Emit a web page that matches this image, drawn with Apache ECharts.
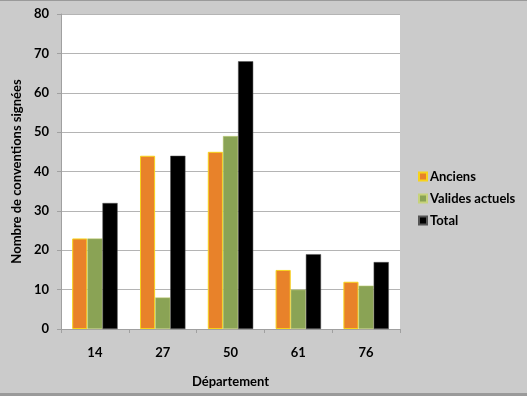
<!DOCTYPE html>
<html><head><meta charset="utf-8">
<script src="https://cdn.jsdelivr.net/npm/echarts@6/dist/echarts.min.js"></script>
<style>
html,body{margin:0;padding:0;background:#cbcbcb;}
#wrap{width:527px;height:396px;box-sizing:border-box;border-top:1px solid #9a9a9a;border-bottom:3px solid #9a9a9a;background:#cbcbcb;}
#c{width:527px;height:392px;}
</style></head>
<body><div id="wrap"><div id="c"></div></div>
<script>
const categories = ['14','27','50','61','76'];
const anciens = [23,44,45,15,12];
const valides = [23,8,49,10,11];
const total = [32,44,68,19,17];
const yTicks = {min:0, max:80, interval:10};

const font = 'Lato, "Open Sans", sans-serif';
const chart = echarts.init(document.getElementById('c'));
chart.setOption({
  animation:false,
  textStyle:{fontFamily:font},
  grid:{left:61,right:127,top:13,bottom:64,show:true,backgroundColor:'#ffffff',borderWidth:0},
  legend:{
    orient:'vertical', left:413, top:164, itemWidth:8, itemHeight:8, itemGap:9,
    icon:'rect',
    textStyle:{fontFamily:font,fontWeight:'bold',fontSize:13,color:'#000',padding:[0,0,0,-2]},
    data:['Anciens','Valides actuels','Total']
  },
  xAxis:{
    type:'category', data:categories,
    name:'Département', nameLocation:'middle', nameGap:46,
    nameTextStyle:{fontFamily:font,fontWeight:'bold',fontSize:13,color:'#000'},
    axisLine:{lineStyle:{color:'#a0a0a0'}},
    axisTick:{show:true,length:4,lineStyle:{color:'#a0a0a0'}},
    axisLabel:{fontFamily:font,fontWeight:'bold',fontSize:13,color:'#000',margin:17}
  },
  yAxis:{
    type:'value', min:yTicks.min, max:yTicks.max, interval:yTicks.interval,
    name:'Nombre de conventions signées', nameLocation:'middle', nameGap:35, nameRotate:90,
    nameTextStyle:{fontFamily:font,fontWeight:'bold',fontSize:13,color:'#000'},
    axisLine:{show:true,lineStyle:{color:'#a0a0a0'}},
    axisTick:{show:true,length:4,lineStyle:{color:'#a0a0a0'}},
    splitLine:{lineStyle:{color:'#b4b4b4'}},
    axisLabel:{fontFamily:font,fontWeight:'bold',fontSize:13,color:'#000',margin:12}
  },
  series:[
    {name:'Anciens',type:'bar',data:anciens,barGap:'0%',barCategoryGap:'33%',
     itemStyle:{color:'#e8822a',borderColor:'#f7d31c',borderWidth:1}},
    {name:'Valides actuels',type:'bar',data:valides,
     itemStyle:{color:'#8aa355',borderColor:'#c7d37a',borderWidth:0.5}},
    {name:'Total',type:'bar',data:total,
     itemStyle:{color:'#000000',borderColor:'#555555',borderWidth:0.5}}
  ]
});
</script></body></html>
